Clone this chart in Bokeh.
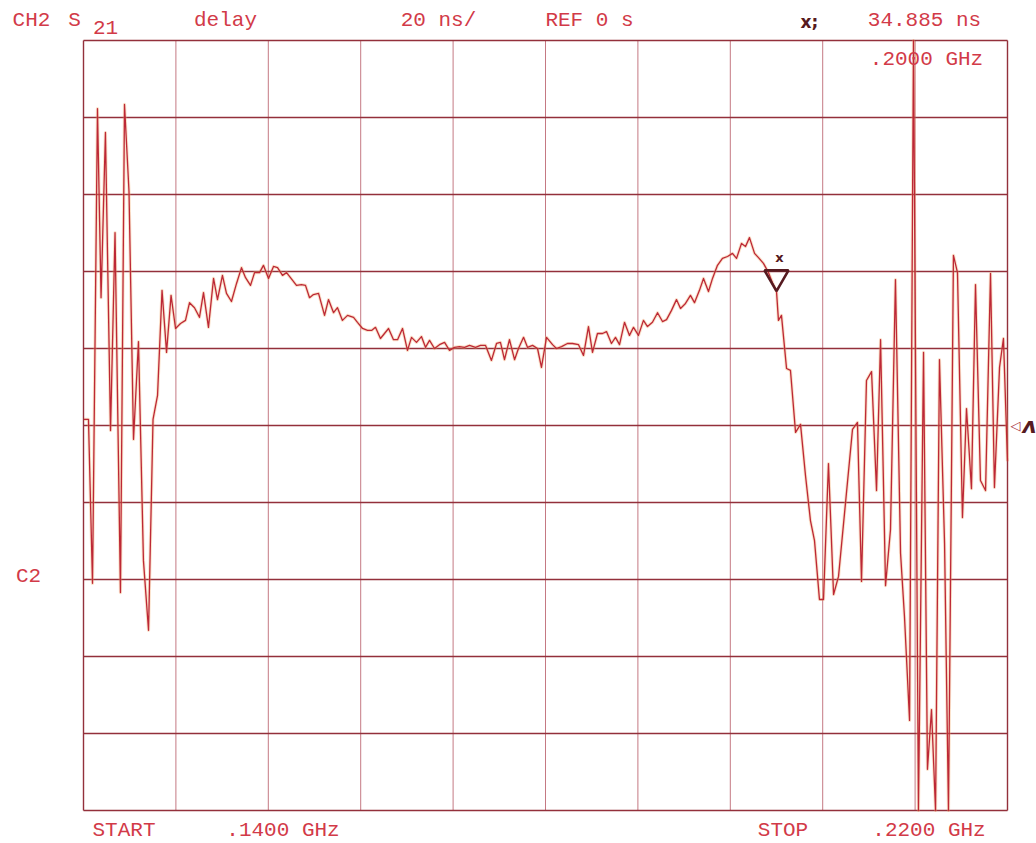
from math import sqrt

from bokeh.embed import file_html
from bokeh.models import Label, Range1d
from bokeh.plotting import figure
from bokeh.resources import INLINE

# ---- instrument settings -------------------------------------------------
START_GHZ = 0.14
STOP_GHZ = 0.22
REF_NS = 0.0          # reference value at the centre graticule line
SCALE_NS = 20.0       # ns per division
N_DIV = 10
MARKER_GHZ = 0.2
MARKER_NS = 34.885

# ---- CH2 S21 group delay trace (frequency in MHz, delay in ns) -----------
FREQ_MHZ = [
    140.04, 140.43, 140.78, 141.21, 141.52, 141.90, 142.34, 142.73, 143.20, 143.55,
    143.94, 144.33, 144.76, 145.19, 145.63, 146.02, 146.41, 146.80, 147.19, 147.58,
    147.97, 148.40, 148.83, 149.18, 149.61, 150.04, 150.39, 150.82, 151.26, 151.60,
    152.03, 152.38, 152.81, 153.25, 153.68, 154.03, 154.46, 154.81, 155.24, 155.58,
    156.02, 156.45, 156.80, 157.23, 157.58, 157.92, 158.44, 158.87, 159.22, 159.57,
    159.91, 160.35, 160.87, 161.21, 161.65, 161.99, 162.42, 162.86, 163.38, 163.72,
    164.16, 164.59, 164.94, 165.28, 165.71, 166.06, 166.41, 166.84, 167.19, 167.62,
    168.05, 168.40, 168.83, 169.26, 169.61, 169.96, 170.39, 170.82, 171.26, 171.69,
    172.12, 172.55, 172.99, 173.42, 173.94, 174.37, 174.81, 175.32, 175.76, 176.10,
    176.45, 176.88, 177.32, 177.66, 178.10, 178.44, 178.88, 179.31, 179.65, 180.09,
    180.61, 180.95, 181.39, 181.90, 182.34, 182.86, 183.29, 183.72, 184.07, 184.50,
    184.94, 185.28, 185.71, 186.06, 186.41, 186.84, 187.27, 187.62, 188.05, 188.48,
    188.83, 189.26, 189.70, 190.13, 190.48, 190.91, 191.34, 191.69, 192.12, 192.55,
    192.90, 193.33, 193.68, 194.11, 194.46, 194.89, 195.32, 195.76, 196.19, 196.54,
    196.97, 197.32, 197.66, 198.10, 198.44, 198.87, 199.31, 199.65, 200.00, 200.17,
    200.43, 200.87, 201.21, 201.65, 202.08, 202.51, 202.94, 203.29, 203.72, 204.07,
    204.50, 204.94, 205.37, 206.58, 207.01, 207.36, 207.79, 208.23, 208.66, 209.01,
    209.44, 209.87, 210.30, 210.74, 211.08, 211.52, 211.86, 212.29, 212.73, 213.07,
    213.42, 213.77, 214.11, 214.55, 214.89, 215.32, 215.67, 216.10, 216.45, 216.88,
    217.23, 217.66, 218.10, 218.53, 218.87, 219.31, 219.65, 220.00,
]

DELAY_NS = [
    1.6, 1.6, -41.0, 82.3, 33.2, 76.1, -1.3, 50.1, -43.4, 83.4,
    60.8, -3.6, 21.8, -35.1, -53.2, 1.6, 7.8, 35.1, 19.0, 33.8,
    25.2, 26.5, 27.3, 31.9, 30.6, 28.1, 34.5, 25.5, 38.2, 32.7,
    39.0, 34.3, 32.2, 36.9, 41.0, 38.4, 36.4, 39.7, 39.7, 41.6,
    38.2, 41.3, 41.0, 39.0, 39.7, 38.4, 36.4, 36.6, 36.4, 33.2,
    34.0, 34.3, 28.6, 32.7, 29.3, 30.6, 27.3, 28.6, 28.1, 26.8,
    25.2, 24.7, 24.7, 25.5, 22.6, 23.9, 25.2, 22.3, 22.3, 25.2,
    19.5, 22.9, 21.6, 23.1, 20.3, 22.1, 20.0, 21.0, 21.6, 19.5,
    20.3, 20.5, 20.3, 20.8, 20.3, 20.8, 20.8, 16.9, 21.3, 21.6,
    17.1, 22.3, 17.1, 20.0, 22.9, 20.3, 20.8, 20.0, 15.1, 22.9,
    21.0, 20.0, 20.5, 21.3, 21.3, 21.0, 18.2, 25.7, 19.0, 23.9,
    23.9, 24.4, 21.3, 22.9, 21.0, 26.8, 23.4, 25.5, 23.4, 27.3,
    25.7, 26.8, 29.3, 27.0, 27.5, 29.9, 32.7, 30.4, 31.7, 33.8,
    31.9, 35.1, 38.2, 34.8, 38.2, 41.6, 43.4, 43.9, 44.7, 43.4,
    47.3, 46.5, 48.8, 44.7, 43.6, 42.1, 39.7, 37.1, 34.885, 27.3,
    28.6, 14.8, 14.3, -1.8, 0.3, -13.0, -24.7, -29.9, -45.2, -45.2,
    -9.9, -43.9, -39.2, -1.0, 0.8, -40.5, 11.7, 14.0, -16.9, 22.3,
    -41.6, -27.0, 37.9, -33.2, -49.6, -76.6, 100.0, -100.0, 19.0, -89.3,
    -73.8, -100.0, 17.1, -30.6, -100.0, 44.2, 39.7, -23.9, 4.4, -16.4,
    36.6, -14.3, -16.9, 39.5, -16.1, 15.1, 22.6, -9.3,
]

freq_ghz = [f / 1000.0 for f in FREQ_MHZ]

y_lo = REF_NS - SCALE_NS * N_DIV / 2
y_hi = REF_NS + SCALE_NS * N_DIV / 2

# ---- page layout: the plot frame covers the whole page, the graticule ----
# ---- sits inside it with margins for the annotation lines             ----
W, H = 1036, 843
G_LEFT, G_RIGHT, G_TOP, G_BOTTOM = 83, 1007, 40, 810   # graticule box, px
GW = G_RIGHT - G_LEFT
GH = G_BOTTOM - G_TOP
ghz_per_px = (STOP_GHZ - START_GHZ) / GW
ns_per_px = (y_hi - y_lo) / GH

x_range = Range1d(START_GHZ - G_LEFT * ghz_per_px, STOP_GHZ + (W - G_RIGHT) * ghz_per_px)
y_range = Range1d(y_lo - (H - G_BOTTOM) * ns_per_px, y_hi + G_TOP * ns_per_px)


def gx(px):
    return START_GHZ + (px - G_LEFT) * ghz_per_px


def gy(py):
    return y_hi - (py - G_TOP) * ns_per_px


PEN_RED = "#d23a48"
GRID_DARK = "#93303b"
GRID_LIGHT = "#bf6a76"
INK = "#561a20"
MONO = "Liberation Mono"

p = figure(
    width=W, height=H, x_range=x_range, y_range=y_range,
    x_axis_type=None, y_axis_type=None,
    toolbar_location=None, output_backend="svg", min_border=0,
)
p.background_fill_color = "white"
p.border_fill_color = "white"
p.outline_line_color = None

# graticule: 10 x 10 divisions
x_step = (STOP_GHZ - START_GHZ) / N_DIV
xt = [START_GHZ + i * x_step for i in range(1, N_DIV)]
yt = [y_lo + i * SCALE_NS for i in range(1, N_DIV)]
p.segment(x0=xt, y0=[y_lo] * len(xt), x1=xt, y1=[y_hi] * len(xt),
          line_color=GRID_LIGHT, line_width=1.0, line_alpha=0.9)
p.segment(x0=[START_GHZ] * len(yt), y0=yt, x1=[STOP_GHZ] * len(yt), y1=yt,
          line_color=GRID_DARK, line_width=1.4)
# graticule border
p.segment(x0=[START_GHZ, START_GHZ, START_GHZ, STOP_GHZ],
          y0=[y_lo, y_hi, y_lo, y_lo],
          x1=[STOP_GHZ, STOP_GHZ, START_GHZ, STOP_GHZ],
          y1=[y_lo, y_hi, y_hi, y_hi],
          line_color=GRID_DARK, line_width=1.4)

# trace: soft ink spread underneath, pen line on top
p.line(freq_ghz, DELAY_NS, line_color="#f2aa66", line_width=3.2, line_alpha=0.35,
       line_join="round")
p.line(freq_ghz, DELAY_NS, line_color="#bd2836", line_width=1.3, line_join="round")

# active marker: inverted triangle with its tip on the marker value
TRI_SIZE = 24
tri_h = TRI_SIZE / 2 * sqrt(3)
p.scatter([MARKER_GHZ], [MARKER_NS + (2 * tri_h / 3) * ns_per_px],
          marker="inverted_triangle", size=TRI_SIZE,
          fill_color=None, line_color=INK, line_width=2.6)


def put(text, px, py, color=PEN_RED, size="21px", font=MONO, align="center",
        baseline="alphabetic", style="normal"):
    p.add_layout(Label(x=gx(px), y=gy(py), text=text, text_color=color,
                       text_font=font, text_font_size=size, text_align=align,
                       text_baseline=baseline, text_font_style=style))


def ghz(v):
    return f"{v:.4f}"[1:] + " GHz"


# header line
put("CH2", 31, 20)
put("S", 74, 20)
put("21", 105, 27)
put("delay", 225, 20)
put(f"{SCALE_NS:.0f} ns/", 438, 20)
put(f"REF {REF_NS:.0f} s", 589, 20)
put("x;", 809, 21, color=INK, font="DejaVu Sans", size="17px", style="bold")
put(f"{MARKER_NS:.3f} ns", 924, 20)
put(ghz(MARKER_GHZ), 926, 59)

# channel tag and sweep limits
put("C2", 28, 576)
put("START", 123.5, 830)
put(ghz(START_GHZ), 282.5, 830)
put("STOP", 782.5, 830)
put(ghz(STOP_GHZ), 928.5, 830)

# reference-position pointer at the right edge and pen notes
p.add_layout(Label(x=gx(1015), y=REF_NS, text="◁", text_color="#a83040",
                   text_font="DejaVu Sans", text_font_size="13px",
                   text_align="center", text_baseline="middle"))
p.add_layout(Label(x=gx(1029), y=REF_NS, text="ʌ", text_color=INK,
                   text_font="DejaVu Sans", text_font_size="22px",
                   text_font_style="bold italic",
                   text_align="center", text_baseline="middle"))
put("x", 779, 257, color=INK, font="DejaVu Sans", size="13px", style="bold")

open("out.html", "w").write(file_html(p, INLINE))
